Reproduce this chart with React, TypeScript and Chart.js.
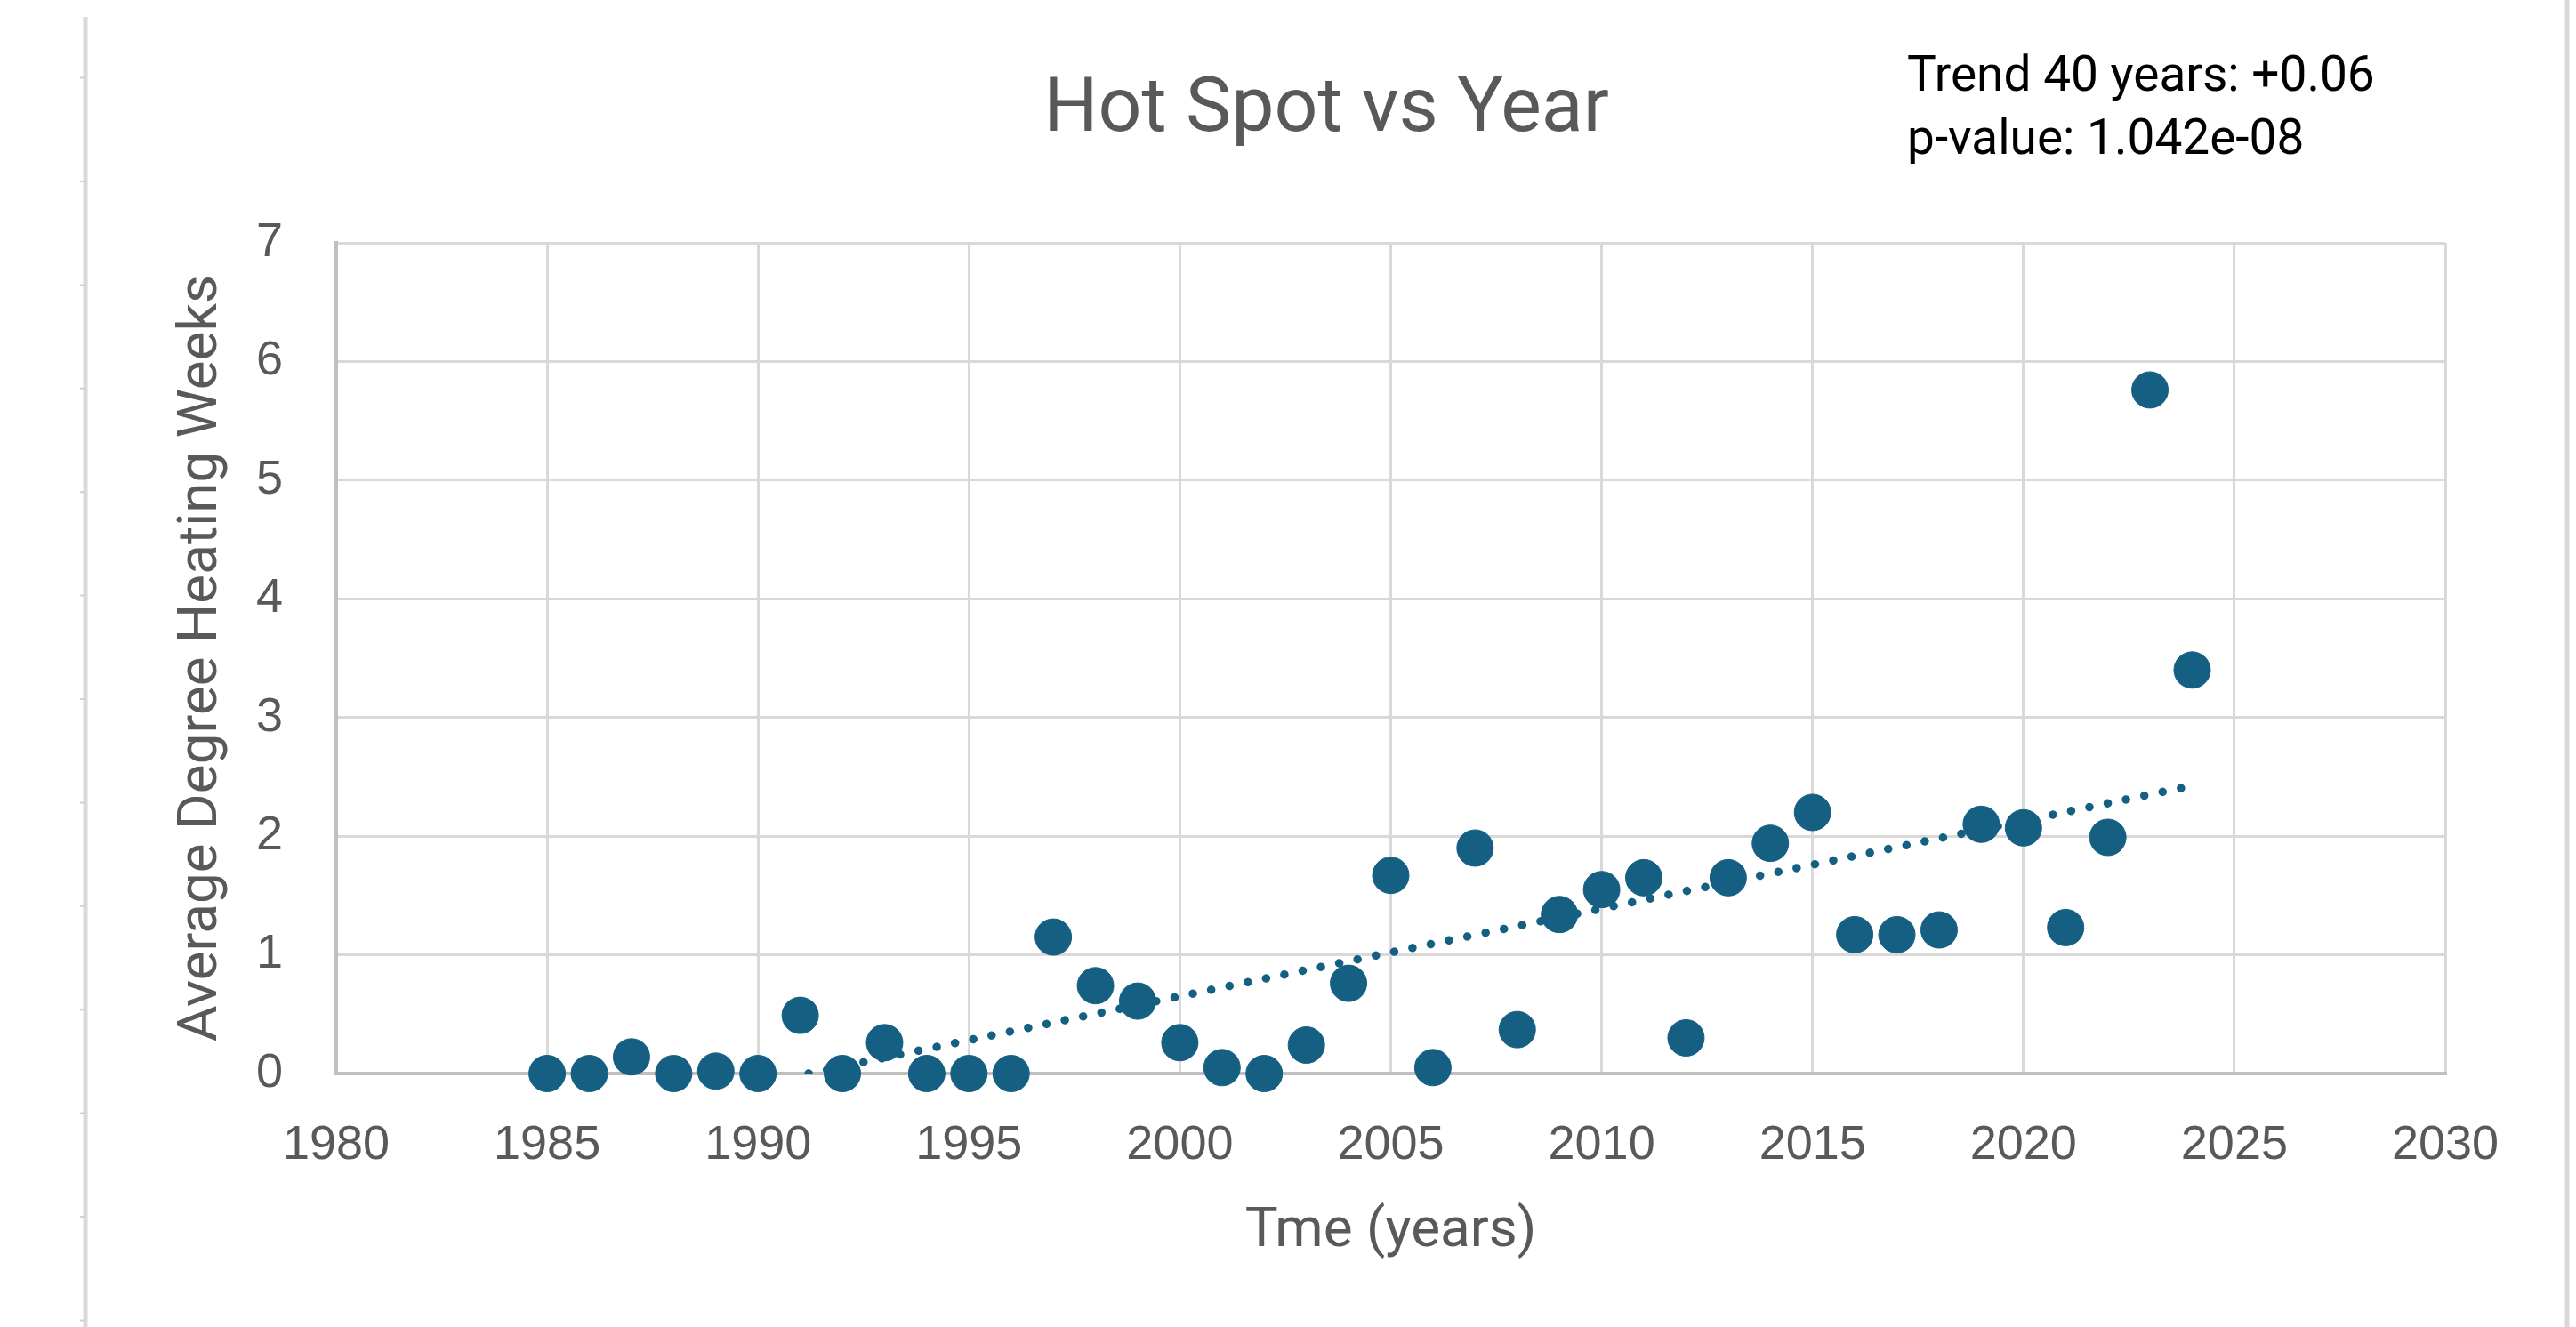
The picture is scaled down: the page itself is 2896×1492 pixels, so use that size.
import React, { useEffect, useRef } from "react";
import { Chart, registerables } from "chart.js";

Chart.register(...registerables);

const years = [
  1985, 1986, 1987, 1988, 1989, 1990, 1991, 1992, 1993, 1994,
  1995, 1996, 1997, 1998, 1999, 2000, 2001, 2002, 2003, 2004,
  2005, 2006, 2007, 2008, 2009, 2010, 2011, 2012, 2013, 2014,
  2015, 2016, 2017, 2018, 2019, 2020, 2021, 2022, 2023, 2024,
];
const heatingWeeks = [
  0, 0, 0.14, 0, 0.02, 0, 0.49, 0, 0.26, 0,
  0, 0, 1.15, 0.74, 0.61, 0.26, 0.05, 0, 0.24, 0.76,
  1.67, 0.05, 1.9, 0.37, 1.34, 1.55, 1.65, 0.3, 1.65, 1.94,
  2.2, 1.17, 1.17, 1.21, 2.1, 2.07, 1.23, 1.99, 5.76, 3.4,
];
const trendYears = [1991.2, 2023.8];
const trendValues = [0, 2.41];
const xTicks = [1980, 1985, 1990, 1995, 2000, 2005, 2010, 2015, 2020, 2025, 2030];
const yTicks = [0, 1, 2, 3, 4, 5, 6, 7];

const chartTitle = "Hot Spot vs Year";
const xTitle = "Tme (years)";
const yTitle = "Average Degree Heating Weeks";
const noteLines = ["Trend 40 years: +0.06", "p-value: 1.042e-08"];

const MARK = "#156082";
const GRID = "#d9d9d9";
const AXIS = "#bfbfbf";
const TEXT = "#595959";

const framePlugin = {
  id: "frame",
  beforeDraw(chart: any) {
    const ctx = chart.ctx;
    ctx.save();
    ctx.strokeStyle = GRID;
    ctx.lineWidth = 5;
    ctx.beginPath();
    ctx.moveTo(96, 19);
    ctx.lineTo(96, chart.height);
    ctx.moveTo(2886, 0);
    ctx.lineTo(2886, chart.height);
    ctx.stroke();
    ctx.lineWidth = 2;
    ctx.strokeStyle = "#d0d0d0";
    ctx.beginPath();
    for (let y = 87.6; y < chart.height; y += 116.4) {
      ctx.moveTo(90, y);
      ctx.lineTo(96, y);
    }
    ctx.stroke();
    ctx.restore();
  },
};

const notePlugin = {
  id: "note",
  afterDraw(chart: any) {
    const ctx = chart.ctx;
    ctx.save();
    ctx.font = "55px Roboto";
    ctx.fillStyle = "#000000";
    ctx.textAlign = "left";
    ctx.textBaseline = "alphabetic";
    ctx.fillText(noteLines[0], 2144, 102);
    ctx.fillText(noteLines[1], 2144, 173);
    ctx.restore();
  },
};

export default function App() {
  const canvasRef = useRef<HTMLCanvasElement | null>(null);

  useEffect(() => {
    document.body.style.margin = "0";
    const canvas = canvasRef.current;
    if (!canvas) return;
    const chart = new Chart(canvas, {
      type: "scatter",
      data: {
        datasets: [
          {
            type: "line",
            label: "Trend",
            data: trendYears.map((x, i) => ({ x, y: trendValues[i] })),
            borderColor: MARK,
            borderWidth: 9.5,
            borderDash: [0.01, 21],
            borderCapStyle: "round",
            pointRadius: 0,
            fill: false,
            order: 2,
          } as any,
          {
            type: "scatter",
            label: "Hot Spot",
            data: years.map((x, i) => ({ x, y: heatingWeeks[i] })),
            backgroundColor: MARK,
            borderColor: MARK,
            pointRadius: 20.5,
            pointBorderWidth: 1,
            clip: false,
            order: 1,
          } as any,
        ],
      },
      options: {
        responsive: false,
        animation: false,
        devicePixelRatio: 1,
        layout: { padding: { left: 96, right: 10, top: 0, bottom: 0 } },
        plugins: {
          legend: { display: false },
          tooltip: { enabled: false },
          title: {
            display: true,
            text: chartTitle,
            color: TEXT,
            font: { family: "Roboto", size: 86, weight: "normal" },
            padding: { top: 74.2, bottom: 95.6 },
          },
        },
        scales: {
          x: {
            type: "linear",
            position: "bottom",
            min: 1980,
            max: 2030,
            afterBuildTicks: (s: any) => {
              s.ticks = xTicks.map((v) => ({ value: v }));
            },
            afterFit: (s: any) => {
              s.height = 285;
            },
            ticks: {
              callback: (v: any) => String(v),
              font: { family: "Liberation Sans", size: 54 },
              color: TEXT,
              padding: 49,
              maxRotation: 0,
              autoSkip: false,
            },
            grid: { color: GRID, lineWidth: 3, drawTicks: false },
            border: { color: AXIS, width: 4 },
            title: {
              display: true,
              text: xTitle,
              color: TEXT,
              font: { family: "Roboto", size: 62 },
              padding: { top: 0, bottom: 69.8 },
            },
          },
          y: {
            type: "linear",
            position: "left",
            min: 0,
            max: 7,
            afterBuildTicks: (s: any) => {
              s.ticks = yTicks.map((v) => ({ value: v }));
            },
            afterFit: (s: any) => {
              s.width = 282;
            },
            ticks: {
              callback: (v: any) => String(v),
              font: { family: "Liberation Sans", size: 54 },
              color: TEXT,
              padding: 60,
            },
            grid: { color: GRID, lineWidth: 3, drawTicks: false },
            border: { color: AXIS, width: 4 },
            title: {
              display: true,
              text: yTitle,
              color: TEXT,
              font: { family: "Roboto", size: 62 },
              padding: { top: 93.8, bottom: 0 },
            },
          },
          yRight: {
            type: "linear",
            position: "right",
            min: 0,
            max: 7,
            display: true,
            afterFit: (s: any) => {
              s.width = 137;
            },
            ticks: { display: false },
            grid: { display: false, drawTicks: false },
            border: { display: false },
          },
        },
      } as any,
      plugins: [framePlugin, notePlugin],
    });
    return () => chart.destroy();
  }, []);

  return (
    <div style={{ width: 2896, height: 1492, background: "#ffffff" }}>
      <canvas ref={canvasRef} width={2896} height={1492} />
    </div>
  );
}
